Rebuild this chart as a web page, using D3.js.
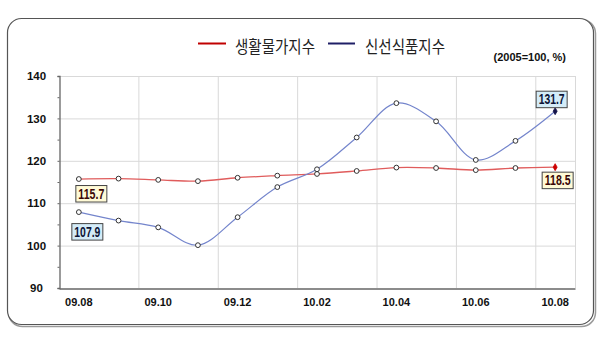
<!DOCTYPE html>
<html><head><meta charset="utf-8">
<script src="https://cdn.jsdelivr.net/npm/d3@7"></script>
<style>html,body{margin:0;padding:0;background:#fff;}svg{display:block;}</style>
</head><body>
<svg id="c" width="600" height="338"></svg>
<script>
const months = ["09.08","09.09","09.10","09.11","09.12","10.01","10.02","10.03","10.04","10.05","10.06","10.07","10.08"];
const livingIndex = [115.7,115.8,115.5,115.2,116.0,116.5,116.9,117.6,118.4,118.3,117.8,118.3,118.5];
const freshIndex  = [107.9,105.9,104.3,100.1,106.7,113.8,118.0,125.5,133.6,129.3,120.2,124.7,131.7];
const yTicks = [90,100,110,120,130,140];
const seriesNames = ["생활물가지수","신선식품지수"];
const unitText = "(2005=100, %)";

const svg = d3.select("#c");
const L = 59, R = 575, T = 76, B = 288;

// frame with shadow
svg.append("rect").attr("x",8.5).attr("y",19.5).attr("width",587).attr("height",307)
  .attr("rx",14).attr("fill","none").attr("stroke","#9a9a9a").attr("stroke-width",1.5);
svg.append("rect").attr("x",7.5).attr("y",18.5).attr("width",586).attr("height",306)
  .attr("rx",14).attr("fill","#fff").attr("stroke","#555").attr("stroke-width",1.2);

const x = d3.scaleBand().domain(months).range([L,R]).padding(0);
const y = d3.scaleLinear().domain([90,140]).range([B,T]);
const cx = d => x(d) + x.bandwidth()/2;

// horizontal gridlines
svg.append("g").selectAll("line").data(yTicks.filter(v=>v>90)).join("line")
  .attr("x1",L).attr("x2",R).attr("y1",d=>y(d)+0.5).attr("y2",d=>y(d)+0.5)
  .attr("stroke","#d9d9d9").attr("stroke-width",1);
// vertical gridlines every two months
const vgrid = months.filter((m,i)=>i>0 && i%2===0);
svg.append("g").selectAll("line").data(vgrid).join("line")
  .attr("x1",d=>x(d)+0.5).attr("x2",d=>x(d)+0.5).attr("y1",T).attr("y2",B)
  .attr("stroke","#d9d9d9").attr("stroke-width",1);
svg.append("line").attr("x1",R+0.5).attr("x2",R+0.5).attr("y1",T).attr("y2",B)
  .attr("stroke","#d9d9d9");

// axes
const yAxis = d3.axisLeft(y).tickValues(d3.range(90,141,5)).tickSize(2).tickFormat(d=> yTicks.includes(d) ? d : "");
const gy = svg.append("g").attr("transform",`translate(${L+0.5},0)`).call(yAxis);
gy.select(".domain").attr("stroke","#666").attr("stroke-width",1.3);
gy.selectAll(".tick line").attr("stroke","#666");
gy.selectAll(".tick text").attr("x",-23).attr("text-anchor","middle")
  .attr("font-family","Liberation Sans, Arial, sans-serif").attr("font-weight","bold").attr("font-size",11.5).attr("fill","#111");

const xAxis = d3.axisBottom(x).tickValues(months.filter((m,i)=>i%2===0)).tickSize(0).tickPadding(10);
const gx = svg.append("g").attr("transform",`translate(0,${B+0.5})`).call(xAxis);
gx.select(".domain").attr("stroke","#666").attr("stroke-width",1.3);
gx.selectAll(".tick text").attr("font-family","Liberation Sans, Arial, sans-serif")
  .attr("font-weight","bold").attr("font-size",11).attr("fill","#111");

// lines
const line = d3.line().x(d=>cx(d.m)).y(d=>y(d.v)).curve(d3.curveCatmullRom.alpha(0.5));
const redData = months.map((m,i)=>({m, v: livingIndex[i]}));
const blueData = months.map((m,i)=>({m, v: freshIndex[i]}));
svg.append("path").datum(redData).attr("d",line).attr("fill","none").attr("stroke","#e05c5c").attr("stroke-width",1.3);
svg.append("path").datum(blueData).attr("d",line).attr("fill","none").attr("stroke","#7485cc").attr("stroke-width",1.2);

function markers(data, fillLast){
  const n = data.length;
  svg.append("g").selectAll("circle").data(data.slice(0,n-1)).join("circle")
    .attr("cx",d=>cx(d.m)).attr("cy",d=>y(d.v)).attr("r",2.4)
    .attr("fill","#fff").attr("stroke","#333").attr("stroke-width",1);
  const last = data[n-1];
  svg.append("path").attr("d",d3.symbol(d3.symbolDiamond,14)())
    .attr("transform",`translate(${cx(last.m)},${y(last.v)})`).attr("fill",fillLast).attr("stroke",fillLast).attr("stroke-width",0.8);
}
markers(redData,"#cc0000");
markers(blueData,"#14144a");

// data labels
function label(d, dx, dy, fill, color){
  const px = cx(d.m), py = y(d.v);
  const g = svg.append("g").attr("transform",`translate(${px+dx},${py+dy})`);
  g.append("rect").attr("x",0.5).attr("y",0.5).attr("width",31).attr("height",16.5)
    .attr("fill",fill).attr("stroke","#444").attr("stroke-width",1);
  g.append("text").attr("x",16).attr("y",13.8).attr("text-anchor","middle")
    .attr("font-family","Liberation Sans, Arial, sans-serif").attr("font-weight","bold").attr("font-size",14)
    .attr("textLength",26).attr("lengthAdjust","spacingAndGlyphs")
    .attr("fill",color).text(d.v.toFixed(1));
}
label(redData[0], -3.5, 6, "#fffad6", "#3a0606");
label(blueData[0], -7.5, 11, "#d4ecf8", "#0d1436");
label(blueData[12], -19.5, -20.5, "#d4ecf8", "#0d1436");
label(redData[12], -13.5, 4.5, "#fffad6", "#3a0606");

// legend
const leg = svg.append("g");
leg.append("line").attr("x1",198).attr("x2",226).attr("y1",43.5).attr("y2",43.5).attr("stroke","#c00000").attr("stroke-width",2);
leg.append("text").attr("x",235).attr("y",45.5).attr("dominant-baseline","central")
  .attr("font-family","Noto Sans CJK KR").attr("font-size",16.5).attr("textLength",80).attr("lengthAdjust","spacingAndGlyphs")
  .attr("fill","#222").text(seriesNames[0]);
leg.append("line").attr("x1",328).attr("x2",355).attr("y1",43.5).attr("y2",43.5).attr("stroke","#1f1f66").attr("stroke-width",2);
leg.append("text").attr("x",365).attr("y",45.5).attr("dominant-baseline","central")
  .attr("font-family","Noto Sans CJK KR").attr("font-size",16.5).attr("textLength",80).attr("lengthAdjust","spacingAndGlyphs")
  .attr("fill","#222").text(seriesNames[1]);

svg.append("text").attr("x",566).attr("y",60.5).attr("text-anchor","end")
  .attr("font-family","Liberation Sans, Arial, sans-serif").attr("font-weight","bold").attr("font-size",11)
  .attr("fill","#111").text(unitText);
</script>
</body></html>
